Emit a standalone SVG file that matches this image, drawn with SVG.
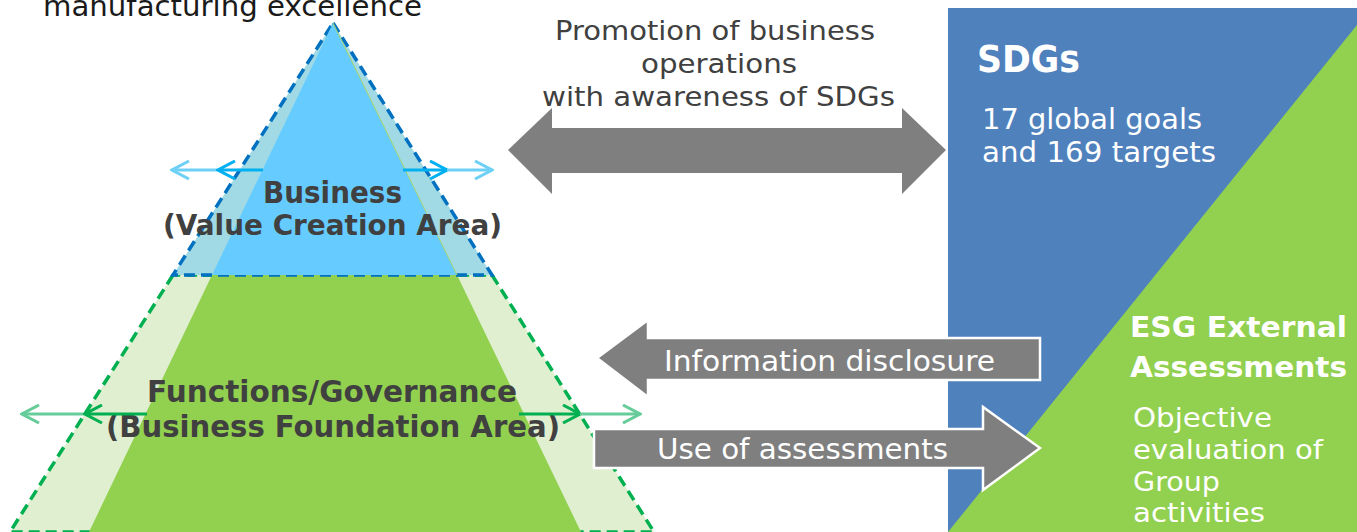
<svg xmlns="http://www.w3.org/2000/svg" width="1357" height="532" viewBox="0 0 1357 532">
  <style>
    .t { font-family: "DejaVu Sans", "Liberation Sans", sans-serif; }
    .dark { fill: #404040; }
    .white { fill: #ffffff; }
    .bold { font-weight: bold; }
    .dash-blue { fill: none; stroke: #0070C0; stroke-width: 3.5; stroke-dasharray: 11 6; }
    .dash-green { fill: none; stroke: #00B050; stroke-width: 3.5; stroke-dasharray: 11 6; }
    .big-arrow { fill: #7F7F7F; }
    .outlined { stroke: #ffffff; stroke-width: 2.5; stroke-linejoin: miter; }
    .x-lblue { stroke: #6FD0F5; stroke-width: 3; marker-end: url(#chev-lblue); }
    .x-dblue { stroke: #00B0F0; stroke-width: 3; marker-end: url(#chev-dblue); }
    .x-lgreen { stroke: #66CC99; stroke-width: 3; marker-end: url(#chev-lgreen); }
    .x-dgreen { stroke: #00B050; stroke-width: 3; marker-end: url(#chev-dgreen); }
  </style>
  <defs>
    <marker id="chev-lblue" viewBox="0 0 20 20" refX="18" refY="10" markerWidth="20" markerHeight="20" markerUnits="userSpaceOnUse" orient="auto">
      <path d="M1,1 L18,10 L1,19" fill="none" stroke="#6FD0F5" stroke-width="3"/>
    </marker>
    <marker id="chev-dblue" viewBox="0 0 20 20" refX="18" refY="10" markerWidth="20" markerHeight="20" markerUnits="userSpaceOnUse" orient="auto">
      <path d="M1,1 L18,10 L1,19" fill="none" stroke="#00B0F0" stroke-width="3"/>
    </marker>
    <marker id="chev-lgreen" viewBox="0 0 20 20" refX="18" refY="10" markerWidth="20" markerHeight="20" markerUnits="userSpaceOnUse" orient="auto">
      <path d="M1,1 L18,10 L1,19" fill="none" stroke="#66CC99" stroke-width="3"/>
    </marker>
    <marker id="chev-dgreen" viewBox="0 0 20 20" refX="18" refY="10" markerWidth="20" markerHeight="20" markerUnits="userSpaceOnUse" orient="auto">
      <path d="M1,1 L18,10 L1,19" fill="none" stroke="#00B050" stroke-width="3"/>
    </marker>
  </defs>

  <!-- heading above the pyramid apex -->
  <g id="heading">
    <text class="t" x="43" y="16" font-size="29" fill="#1a1a1a" textLength="379" lengthAdjust="spacingAndGlyphs">manufacturing excellence</text>
  </g>

  <!-- pyramid: foundation band (lower) -->
  <g id="foundation-area">
    <polygon points="173,275 492,275 654,532 10,532" fill="#DFEFCF"/>
    <polygon class="dash-green" points="173,275 10,532 654,532 492,275"/>
    <polygon points="212,275 457,275 581,532 89,532" fill="#92D050"/>
    <text class="t dark bold" x="147" y="402" font-size="30" textLength="370" lengthAdjust="spacingAndGlyphs">Functions/Governance</text>
    <text class="t dark bold" x="106" y="437" font-size="30" textLength="454" lengthAdjust="spacingAndGlyphs">(Business Foundation Area)</text>
  </g>

  <!-- pyramid: business band (top) -->
  <g id="business-area">
    <polygon points="333,23 492,275 173,275" fill="#A1DAE4"/>
    <polygon class="dash-blue" points="333,23 492,275 173,275"/>
    <polygon points="333,23 457,275 212,275" fill="#66CCFF"/>
    <line x1="333" y1="23" x2="457" y2="275" stroke="#A9D66A" stroke-width="1"/>
    <text class="t dark bold" x="263" y="203" font-size="30" textLength="139" lengthAdjust="spacingAndGlyphs">Business</text>
    <text class="t dark bold" x="163" y="235" font-size="28" textLength="339" lengthAdjust="spacingAndGlyphs">(Value Creation Area)</text>
  </g>

  <!-- SDGs panel with ESG triangle -->
  <g id="sdgs">
    <rect x="948" y="8" width="409" height="524" fill="#4F81BD"/>
    <text class="t white bold" x="977" y="72" font-size="37" textLength="103" lengthAdjust="spacingAndGlyphs">SDGs</text>
    <text class="t white" x="982" y="129" font-size="29" textLength="220" lengthAdjust="spacingAndGlyphs">17 global goals</text>
    <text class="t white" x="982" y="162" font-size="29" textLength="234" lengthAdjust="spacingAndGlyphs">and 169 targets</text>
  </g>
  <g id="esg-assessments">
    <polygon points="1357,25 1357,532 948,532" fill="#92D050"/>
    <text class="t white bold" x="1130" y="337" font-size="28" textLength="217" lengthAdjust="spacingAndGlyphs">ESG External</text>
    <text class="t white bold" x="1130" y="377" font-size="28" textLength="217" lengthAdjust="spacingAndGlyphs">Assessments</text>
    <text class="t white" x="1133" y="427" font-size="26" textLength="139" lengthAdjust="spacingAndGlyphs">Objective</text>
    <text class="t white" x="1133" y="459" font-size="26" textLength="190" lengthAdjust="spacingAndGlyphs">evaluation of</text>
    <text class="t white" x="1133" y="491" font-size="26" textLength="87" lengthAdjust="spacingAndGlyphs">Group</text>
    <text class="t white" x="1133" y="522" font-size="26" textLength="132" lengthAdjust="spacingAndGlyphs">activities</text>
  </g>

  <!-- connectors -->
  <g id="connectors">
    <!-- expansion arrows, business band -->
    <line class="x-lblue" x1="217" y1="170" x2="172" y2="170"/>
    <line class="x-dblue" x1="263" y1="170" x2="218" y2="170"/>
    <line class="x-dblue" x1="403" y1="170" x2="447" y2="170"/>
    <line class="x-lblue" x1="447" y1="170" x2="492" y2="170"/>
    <!-- expansion arrows, foundation band -->
    <line class="x-lgreen" x1="84" y1="414" x2="22" y2="414"/>
    <line class="x-dgreen" x1="147" y1="414" x2="85" y2="414"/>
    <line class="x-dgreen" x1="519" y1="414" x2="580" y2="414"/>
    <line class="x-lgreen" x1="580" y1="414" x2="640" y2="414"/>

    <!-- business <-> SDGs -->
    <polygon class="big-arrow" points="508,150 552,108 552,128 902,128 902,108 946,150 902,194 902,173 552,173 552,194"/>
    <text class="t dark" x="555" y="40" font-size="27" textLength="320" lengthAdjust="spacingAndGlyphs">Promotion of business</text>
    <text class="t dark" x="641" y="73" font-size="27" textLength="156" lengthAdjust="spacingAndGlyphs">operations</text>
    <text class="t dark" x="542" y="106" font-size="27" textLength="353" lengthAdjust="spacingAndGlyphs">with awareness of SDGs</text>

    <!-- disclosure toward the foundation -->
    <polygon class="big-arrow outlined" points="597,358 648,320 648,338 1040,338 1040,380 648,380 648,397"/>
    <text class="t white" x="664" y="371" font-size="29" textLength="331" lengthAdjust="spacingAndGlyphs">Information disclosure</text>

    <!-- assessments toward ESG -->
    <polygon class="big-arrow outlined" points="594,429 983,429 983,407 1040,448 983,490 983,468 594,468"/>
    <text class="t white" x="657" y="459" font-size="29" textLength="291" lengthAdjust="spacingAndGlyphs">Use of assessments</text>
  </g>
</svg>
